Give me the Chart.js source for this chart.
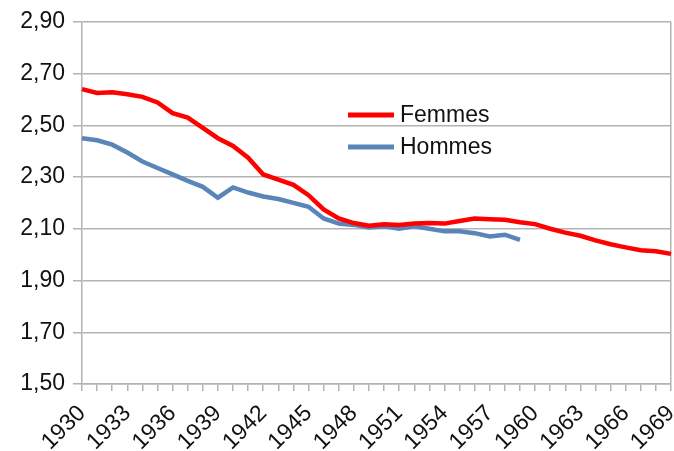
<!DOCTYPE html>
<html>
<head>
<meta charset="utf-8">
<script src="https://cdn.jsdelivr.net/npm/chart.js@4/dist/chart.umd.min.js"></script>
<style>
  html, body { margin: 0; padding: 0; background: #fff; }
  #wrap { width: 674px; height: 451px; }
</style>
</head>
<body>
<div id="wrap"><canvas id="c" width="674" height="451"></canvas></div>
<script>
// Years on the category axis
const years = [];
for (let y = 1930; y <= 1969; y++) years.push(String(y));

// Femmes, 1930–1969
const femmes = [
  2.640, 2.625, 2.628, 2.620, 2.610, 2.588, 2.547, 2.530, 2.490, 2.450,
  2.420, 2.375, 2.310, 2.290, 2.270, 2.230, 2.175, 2.140, 2.122, 2.112,
  2.117, 2.115, 2.120, 2.122, 2.120, 2.130, 2.140, 2.137, 2.135, 2.125,
  2.118, 2.100, 2.085, 2.073, 2.055, 2.040, 2.028, 2.017, 2.013, 2.003
];

// Hommes, 1930–1959
const hommes = [
  2.450, 2.442, 2.425, 2.395, 2.360, 2.335, 2.310, 2.285, 2.262, 2.220,
  2.260, 2.240, 2.225, 2.215, 2.200, 2.185, 2.140, 2.120, 2.115, 2.105,
  2.110, 2.100, 2.110, 2.100, 2.090, 2.090, 2.083, 2.070, 2.077, 2.057
];

// Value axis
const yMin = 1.5, yMax = 2.9, yStep = 0.2;
const labelEvery = 3;

const FONT = '"Liberation Sans", Arial, sans-serif';
const GRID = '#b3b3b3';

// Legend drawn inside the plot, two rows
const innerLegend = {
  id: 'innerLegend',
  afterDatasetsDraw(chart) {
    const ctx = chart.ctx;
    const x0 = 348, lineW = 46, gap = 6, rowY = [115, 147];
    ctx.save();
    ctx.font = '23px ' + FONT;
    ctx.textBaseline = 'middle';
    chart.data.datasets.forEach((ds, i) => {
      const y = rowY[i];
      ctx.strokeStyle = ds.borderColor;
      ctx.lineWidth = 5;
      ctx.beginPath();
      ctx.moveTo(x0, y);
      ctx.lineTo(x0 + lineW, y);
      ctx.stroke();
      ctx.fillStyle = '#111';
      ctx.fillText(ds.label, x0 + lineW + gap, y + 1);
    });
    ctx.restore();
  }
};

new Chart(document.getElementById('c'), {
  type: 'line',
  data: {
    labels: years,
    datasets: [
      { label: 'Femmes', data: femmes, borderColor: '#ff0000', borderWidth: 4.5,
        pointRadius: 0, tension: 0, fill: false },
      { label: 'Hommes', data: hommes, borderColor: '#5a85b8', borderWidth: 4.5,
        pointRadius: 0, tension: 0, fill: false }
    ]
  },
  options: {
    responsive: false,
    animation: false,
    devicePixelRatio: 1,
    layout: { padding: { top: 20, right: 3, left: 0, bottom: 0 } },
    plugins: { legend: { display: false }, tooltip: { enabled: false } },
    scales: {
      x: {
        offset: false,
        afterFit(s) { s.height = 67; s.paddingRight = 0; s.paddingLeft = 0; },
        grid: {
          drawOnChartArea: true,
          color: c => (c.index === years.length - 1 ? GRID : 'rgba(0,0,0,0)'),
          tickColor: GRID,
          tickLength: 7,
          lineWidth: 1.5
        },
        border: { color: GRID, width: 1.5 },
        ticks: {
          autoSkip: false,
          minRotation: 45,
          maxRotation: 45,
          padding: 9,
          color: '#111',
          font: { family: FONT, size: 23 },
          callback(v, i) { return i % labelEvery === 0 ? years[i] : ''; }
        }
      },
      y: {
        min: yMin,
        max: yMax,
        afterFit(s) { s.width = 82; },
        grid: { color: GRID, tickColor: GRID, tickLength: 9, lineWidth: 1.5 },
        border: { color: GRID, width: 1.5 },
        ticks: {
          stepSize: yStep,
          padding: 8,
          color: '#111',
          font: { family: FONT, size: 23 },
          callback: v => Number(v).toFixed(2).replace('.', ',')
        }
      }
    }
  },
  plugins: [innerLegend]
});
</script>
</body>
</html>
